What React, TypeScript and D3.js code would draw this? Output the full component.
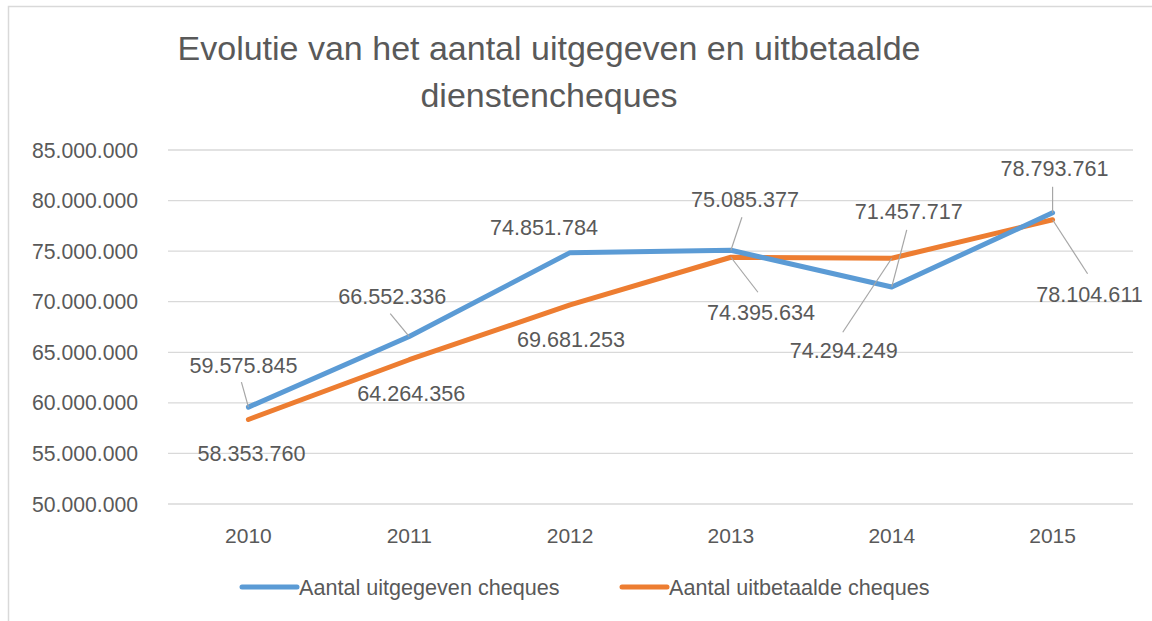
import React from "react"
import * as d3 from "d3"

const years = ["2010", "2011", "2012", "2013", "2014", "2015"]
const issued = [59575845, 66552336, 74851784, 75085377, 71457717, 78793761]
const paid = [58353760, 64264356, 69681253, 74395634, 74294249, 78104611]
const yTicks = [50000000, 55000000, 60000000, 65000000, 70000000, 75000000, 80000000, 85000000]
const seriesNames = ["Aantal uitgegeven cheques", "Aantal uitbetaalde cheques"]

// label placement relative to the point: [dx, dy, leaderX, leaderY] (leader null = none)
const issuedLabelPos = [
  [-5, -42, -7, -25],
  [-17, -40, -19, -23],
  [-26, -25, null, null],
  [14, -51, 11, -33],
  [17, -75, 15, -57],
  [2, -44, 0, -26],
]
const paidLabelPos = [
  [3, 34, null, null],
  [2, 34, null, null],
  [1, 35, null, null],
  [30, 55, 27, 35],
  [-48, 92, -49, 74],
  [37, 75, 35, 54],
]

const colors = { issued: "#5B9BD5", paid: "#ED7D31" }
const fmt = (v: number) => d3.format(",")(v).replace(/,/g, ".")
const font = "'Liberation Sans', Arial, sans-serif"
const textColor = "#595959"

const App = () => {
  const width = 1152
  const height = 621
  const margin = { top: 150, right: 19, bottom: 117, left: 168 }

  const x = d3
    .scaleBand()
    .domain(years)
    .range([margin.left, width - margin.right])
  const y = d3
    .scaleLinear()
    .domain([50000000, 85000000])
    .range([height - margin.bottom, margin.top])

  const cx = (d: string) => (x(d) as number) + x.bandwidth() / 2
  const line = d3
    .line<number>()
    .x((_, i) => cx(years[i]))
    .y((v) => y(v))

  const labels = (values: number[], pos: (number | null)[][]) =>
    values.map((v, i) => {
      const px = cx(years[i])
      const py = y(v)
      const [dx, dy, lx, ly] = pos[i] as number[]
      return (
        <g key={i}>
          {lx !== null && (
            <line
              x1={px + lx}
              y1={py + ly}
              x2={px}
              y2={py}
              stroke="#A6A6A6"
              strokeWidth={1.2}
            />
          )}
          <text
            x={px + dx}
            y={py + dy}
            textAnchor="middle"
            dominantBaseline="central"
            fontSize={21.6}
            fill={textColor}
          >
            {fmt(v)}
          </text>
        </g>
      )
    })

  return (
    <svg
      width={width}
      height={height}
      style={{ position: "absolute", left: 0, top: 0, fontFamily: font }}
    >
      <rect width={width} height={height} fill="#fff" />
      <rect x={8.5} y={6.5} width={width + 20} height={height + 20} fill="none" stroke="#D9D9D9" strokeWidth={1.5} />

      <text x={549} y={48} textAnchor="middle" dominantBaseline="central" fontSize={34} fill={textColor}>
        Evolutie van het aantal uitgegeven en uitbetaalde
      </text>
      <text x={549} y={95} textAnchor="middle" dominantBaseline="central" fontSize={34} fill={textColor}>
        dienstencheques
      </text>

      {yTicks.map((t) => (
        <g key={t}>
          <line
            x1={margin.left}
            x2={width - margin.right}
            y1={y(t)}
            y2={y(t)}
            stroke="#D9D9D9"
            strokeWidth={1.3}
          />
          <text
            x={138}
            y={y(t)}
            textAnchor="end"
            dominantBaseline="central"
            fontSize={21.2}
            fill={textColor}
          >
            {fmt(t)}
          </text>
        </g>
      ))}

      {years.map((yr) => (
        <text
          key={yr}
          x={cx(yr)}
          y={535}
          textAnchor="middle"
          dominantBaseline="central"
          fontSize={21}
          fill={textColor}
        >
          {yr}
        </text>
      ))}

      <path d={line(paid) || ""} fill="none" stroke={colors.paid} strokeWidth={5} strokeLinecap="round" strokeLinejoin="round" />
      <path d={line(issued) || ""} fill="none" stroke={colors.issued} strokeWidth={5} strokeLinecap="round" strokeLinejoin="round" />

      {labels(issued, issuedLabelPos)}
      {labels(paid, paidLabelPos)}

      <g>
        <line x1={242} x2={297} y1={587} y2={587} stroke={colors.issued} strokeWidth={5} strokeLinecap="round" />
        <text x={299} y={587} dominantBaseline="central" fontSize={21.6} fill={textColor}>
          {seriesNames[0]}
        </text>
        <line x1={622} x2={667} y1={587} y2={587} stroke={colors.paid} strokeWidth={5} strokeLinecap="round" />
        <text x={669} y={587} dominantBaseline="central" fontSize={21.6} fill={textColor}>
          {seriesNames[1]}
        </text>
      </g>
    </svg>
  )
}

export default App
